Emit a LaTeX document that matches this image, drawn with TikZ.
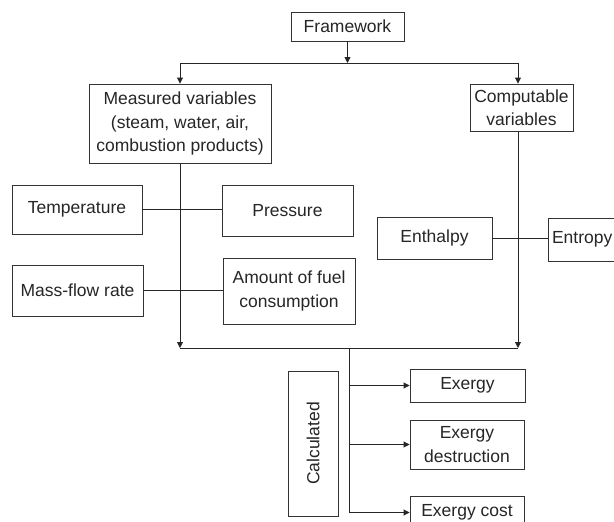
\documentclass[tikz,border=0pt]{standalone}
\usepackage{fontspec}
\setmainfont{Liberation Sans}
\usetikzlibrary{arrows.meta}
\begin{document}
\begin{tikzpicture}[x=1pt,y=-1pt,
  box/.style={draw=black!80, line width=0.9pt, inner sep=0pt, align=center, text=black!85,
    font=\fontsize{17.5}{23.5}\selectfont},
  conn/.style={draw=black!85, line width=0.9pt},
  arr/.style={conn, -{Triangle[length=6pt,width=6pt]}}]
\useasboundingbox (0,0) rectangle (614,522);
\clip (0,0) rectangle (614,522);
\fill[white] (0,0) rectangle (614,522);
% nodes
\node[box, minimum width=113pt, minimum height=29pt] (frame) at (347.5,26.5) {Framework};
\node[box, minimum width=182pt, minimum height=79pt] (meas) at (180,123.5) {Measured variables\\(steam, water, air,\\combustion products)};
\node[box, minimum width=103pt, minimum height=47pt] (comp) at (521.5,107.5) {Computable\\variables};
\node[box, minimum width=130pt, minimum height=49pt] (temp) at (77,209.5) {Temperature};
\node[box, minimum width=131pt, minimum height=51pt] (pres) at (287.5,210.5) {Pressure};
\node[box, minimum width=131pt, minimum height=51pt] (mass) at (77.5,290.5) {Mass-flow rate};
\node[box, minimum width=132pt, minimum height=66pt] (fuel) at (289,291) {Amount of fuel\\consumption};
\node[box, minimum width=115pt, minimum height=42pt] (enth) at (434.5,238) {Enthalpy};
\node[box, minimum width=76pt, minimum height=43pt, text width=68pt, align=left] (entr) at (586,239.5) {Entropy};
\node[box, minimum width=50pt, minimum height=145pt] (calc) at (313,443.5) {};
\node[font=\fontsize{17.5}{23.5}\selectfont, text=black!85, rotate=90, inner sep=0pt] (calctext) at (calc.center) {Calculated};
\node[box, minimum width=115pt, minimum height=33pt] (ex1) at (467.5,385.5) {Exergy};
\node[box, minimum width=114pt, minimum height=49pt] (ex2) at (467,444.5) {Exergy\\destruction};
\node[box, minimum width=114pt, minimum height=33pt] (ex3) at (467,512.5) {Exergy cost};
% coordinates
\coordinate (split) at (347.5,63);
\coordinate (bl) at (180,63);
\coordinate (br) at (518,63);
\coordinate (jl) at (180,348);
\coordinate (jr) at (518,348);
\coordinate (jm) at (349,348);
\coordinate (jb) at (349,512.5);
% connectors
\draw[arr] (frame.south) -- (split);
\draw[conn] (bl) -- (br);
\draw[arr] (bl) -- (meas.north);
\draw[arr] (br) -- (br |- comp.north);
\draw[arr] (meas.south) -- (jl);
\draw[arr] (br |- comp.south) -- (jr);
\draw[conn] (jl) -- (jr);
\draw[conn] (temp.east) -- (temp.east -| pres.west);
\draw[conn] (mass.east) -- (mass.east -| fuel.west);
\draw[conn] (enth.east) -- (enth.east -| entr.west);
\draw[conn] (jm) -- (jb);
\draw[arr] (jm |- ex1.west) -- (ex1.west);
\draw[arr] (jm |- ex2.west) -- (ex2.west);
\draw[arr] (jb) -- (ex3.west);
\end{tikzpicture}
\end{document}
